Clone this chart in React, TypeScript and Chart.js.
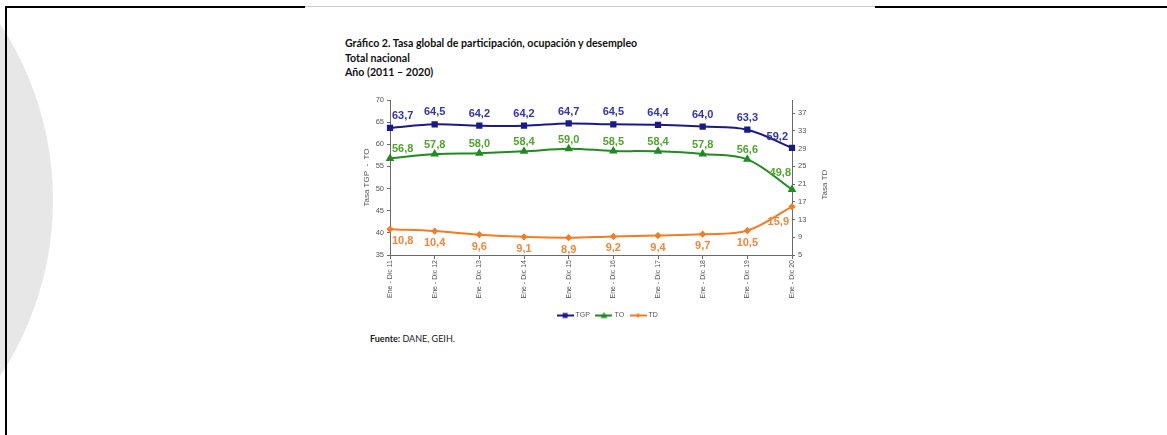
import React, { useEffect, useRef } from "react";
import { Chart, registerables } from "chart.js";

Chart.register(...registerables);

const categories = [
  "Ene - Dic 11",
  "Ene - Dic 12",
  "Ene - Dic 13",
  "Ene - Dic 14",
  "Ene - Dic 15",
  "Ene - Dic 16",
  "Ene - Dic 17",
  "Ene - Dic 18",
  "Ene - Dic 19",
  "Ene - Dic 20",
];
const tgp = [63.7, 64.5, 64.2, 64.2, 64.7, 64.5, 64.4, 64.0, 63.3, 59.2];
const to = [56.8, 57.8, 58.0, 58.4, 59.0, 58.5, 58.4, 57.8, 56.6, 49.8];
const td = [10.8, 10.4, 9.6, 9.1, 8.9, 9.2, 9.4, 9.7, 10.5, 15.9];
const leftTicks = [35, 40, 45, 50, 55, 60, 65, 70];
const rightTicks = [5, 9, 13, 17, 21, 25, 29, 33, 37];
const rightTitle = "Tasa TD";

const FONT = '"Liberation Sans", Arial, sans-serif';
const TICK_COLOR = "#555";
const AXIS_COLOR = "#6a6a6a";

const COLORS = {
  tgp: { line: "#1a1a88", label: "#3434b4" },
  to: { line: "#1f8c1f", label: "#4ea62c" },
  td: { line: "#f47c20", label: "#f0883a" },
};

// label placement per dataset: offset for normal points and for last point
const LABEL_STYLE = [
  { color: COLORS.tgp.label, dy: -12, lastDy: -11, lastDx: -4 },
  { color: COLORS.to.label, dy: -9, lastDy: -16, lastDx: -1 },
  { color: COLORS.td.label, dy: 12, lastDy: 15, lastDx: -3 },
];

const fmt = (v: number) => v.toFixed(1).replace(".", ",");

function makeLegendIcon(color: string, style: string): HTMLCanvasElement {
  const c = document.createElement("canvas");
  c.width = 17;
  c.height = 8;
  const g = c.getContext("2d")!;
  g.strokeStyle = color;
  g.fillStyle = color;
  g.lineWidth = 2;
  g.beginPath();
  g.moveTo(0, 4);
  g.lineTo(17, 4);
  g.stroke();
  g.beginPath();
  if (style === "rect") {
    g.rect(6, 1.5, 5, 5);
  } else if (style === "triangle") {
    g.moveTo(8.5, 0.5);
    g.lineTo(12, 6.5);
    g.lineTo(5, 6.5);
    g.closePath();
  } else {
    g.moveTo(8.5, 1.5);
    g.lineTo(11, 4);
    g.lineTo(8.5, 6.5);
    g.lineTo(6, 4);
    g.closePath();
  }
  g.fill();
  return c;
}

const valueLabels = {
  id: "valueLabels",
  afterDatasetsDraw(chart: any) {
    const ctx = chart.ctx;
    chart.data.datasets.forEach((ds: any, di: number) => {
      const meta = chart.getDatasetMeta(di);
      const st = LABEL_STYLE[di];
      ctx.save();
      ctx.font = `bold 11px ${FONT}`;
      ctx.fillStyle = st.color;
      ctx.textBaseline = "middle";
      const n = meta.data.length;
      meta.data.forEach((pt: any, i: number) => {
        let x = pt.x;
        let y = pt.y + st.dy;
        if (i === 0) {
          ctx.textAlign = "left";
          x += 2;
        } else if (i === n - 1) {
          ctx.textAlign = "right";
          x += st.lastDx;
          y = pt.y + st.lastDy;
        } else {
          ctx.textAlign = "center";
        }
        ctx.fillText(fmt(ds.data[i]), x, y);
      });
      ctx.restore();
    });
  },
};

// right axis title reading bottom-to-top, like the left one
const rightAxisTitle = {
  id: "rightAxisTitle",
  afterDraw(chart: any) {
    const s = chart.scales.y1;
    const ctx = chart.ctx;
    ctx.save();
    ctx.font = `8px ${FONT}`;
    ctx.fillStyle = TICK_COLOR;
    ctx.textAlign = "center";
    ctx.textBaseline = "middle";
    ctx.translate(s.left + 33, (s.top + s.bottom) / 2 + 7);
    ctx.rotate(-Math.PI / 2);
    ctx.fillText(rightTitle, 0, 0);
    ctx.restore();
  },
};

function TasaChart() {
  const ref = useRef<HTMLCanvasElement | null>(null);
  useEffect(() => {
    if (!ref.current) return;
    const icons = [
      makeLegendIcon(COLORS.tgp.line, "rect"),
      makeLegendIcon(COLORS.to.line, "triangle"),
      makeLegendIcon(COLORS.td.line, "diamond"),
    ];
    const chart = new Chart(ref.current, {
      type: "line",
      data: {
        labels: categories,
        datasets: [
          {
            label: "TGP",
            data: tgp,
            yAxisID: "y",
            borderColor: COLORS.tgp.line,
            backgroundColor: COLORS.tgp.line,
            borderWidth: 2,
            pointStyle: "rect",
            pointRadius: 3,
            tension: 0.35,
          },
          {
            label: "TO",
            data: to,
            yAxisID: "y",
            borderColor: COLORS.to.line,
            backgroundColor: COLORS.to.line,
            borderWidth: 2,
            pointStyle: "triangle",
            pointRadius: 3,
            tension: 0.35,
          },
          {
            label: "TD",
            data: td,
            yAxisID: "y1",
            borderColor: COLORS.td.line,
            backgroundColor: COLORS.td.line,
            borderWidth: 2,
            pointStyle: "rectRot",
            pointRadius: 2.2,
            tension: 0.35,
          },
        ],
      },
      options: {
        animation: false,
        responsive: false,
        maintainAspectRatio: false,
        layout: { padding: { top: 8, left: 0, right: 0, bottom: 0 } },
        plugins: {
          tooltip: { enabled: false },
          legend: {
            position: "bottom",
            labels: {
              usePointStyle: true,
              pointStyleWidth: 14,
              padding: 7,
              color: TICK_COLOR,
              font: { size: 7, family: FONT },
              generateLabels: (chart: any) =>
                chart.data.datasets.map((ds: any, i: number) => ({
                  text: ds.label,
                  pointStyle: icons[i],
                  fillStyle: ds.borderColor,
                  strokeStyle: ds.borderColor,
                  lineWidth: 0,
                  fontColor: TICK_COLOR,
                  datasetIndex: i,
                  hidden: false,
                })),
            },
          },
        },
        scales: {
          x: {
            type: "category",
            offset: false,
            grid: {
              display: true,
              drawOnChartArea: false,
              drawTicks: true,
              tickLength: 4,
              color: AXIS_COLOR,
            },
            border: { color: AXIS_COLOR, width: 1 },
            ticks: {
              autoSkip: false,
              maxRotation: 90,
              minRotation: 90,
              padding: 1,
              color: TICK_COLOR,
              font: { size: 7, family: FONT },
            },
            afterFit: (s: any) => {
              s.height = 50;
            },
          },
          y: {
            type: "linear",
            position: "left",
            min: 35,
            max: 70,
            grid: {
              drawOnChartArea: false,
              drawTicks: true,
              tickLength: 3,
              color: AXIS_COLOR,
            },
            border: { color: AXIS_COLOR, width: 1 },
            ticks: {
              color: TICK_COLOR,
              padding: 3,
              font: { size: 7.5, family: FONT },
            },
            afterBuildTicks: (s: any) => {
              s.ticks = leftTicks.map((v) => ({ value: v }));
            },
            title: {
              display: true,
              text: "Tasa TGP  -  TO",
              color: TICK_COLOR,
              font: { size: 8, family: FONT },
              padding: { top: 4, bottom: 0 },
            },
            afterFit: (s: any) => {
              s.width = 32;
            },
          },
          y1: {
            type: "linear",
            position: "right",
            min: 5,
            max: 40,
            grid: {
              drawOnChartArea: false,
              drawTicks: true,
              tickLength: 3,
              color: AXIS_COLOR,
            },
            border: { color: AXIS_COLOR, width: 1 },
            ticks: {
              color: TICK_COLOR,
              padding: 3,
              font: { size: 7.5, family: FONT },
            },
            afterBuildTicks: (s: any) => {
              s.ticks = rightTicks.map((v) => ({ value: v }));
            },
            afterFit: (s: any) => {
              s.width = 66;
            },
          },
        },
      },
      plugins: [valueLabels, rightAxisTitle],
    });
    return () => chart.destroy();
  }, []);
  return (
    <canvas
      ref={ref}
      width={500}
      height={237}
      style={{ position: "absolute", left: 358, top: 92, width: 500, height: 237 }}
    />
  );
}

export default function App() {
  const titleFont = 'Lato, "Open Sans", sans-serif';
  return (
    <div
      style={{
        position: "absolute",
        left: 0,
        top: 0,
        width: 1167,
        height: 435,
        overflow: "hidden",
        background: "#fff",
      }}
    >
      <div
        style={{
          position: "absolute",
          left: -585,
          top: -119,
          width: 638,
          height: 638,
          borderRadius: "50%",
          background: "#e7e7e7",
        }}
      />
      <div style={{ position: "absolute", left: 5, top: 6, width: 2, height: 429, background: "#000" }} />
      <div style={{ position: "absolute", left: 5, top: 6, width: 300, height: 2, background: "#000" }} />
      <div style={{ position: "absolute", left: 305, top: 6, width: 570, height: 1, background: "#c8c8c8" }} />
      <div style={{ position: "absolute", left: 875, top: 6, width: 292, height: 2, background: "#000" }} />
      <div
        style={{
          position: "absolute",
          left: 345,
          top: 36,
          fontFamily: titleFont,
          fontWeight: 700,
          fontSize: 10.6,
          lineHeight: "14.5px",
          color: "#111",
          whiteSpace: "nowrap",
        }}
      >
        <div>Gráfico 2. Tasa global de participación, ocupación y desempleo</div>
        <div>Total nacional</div>
        <div>Año (2011 – 2020)</div>
      </div>
      <TasaChart />
      <div
        style={{
          position: "absolute",
          left: 370,
          top: 333,
          fontFamily: titleFont,
          fontSize: 9,
          color: "#222",
          whiteSpace: "nowrap",
        }}
      >
        <b>Fuente:</b> DANE, GEIH.
      </div>
    </div>
  );
}
